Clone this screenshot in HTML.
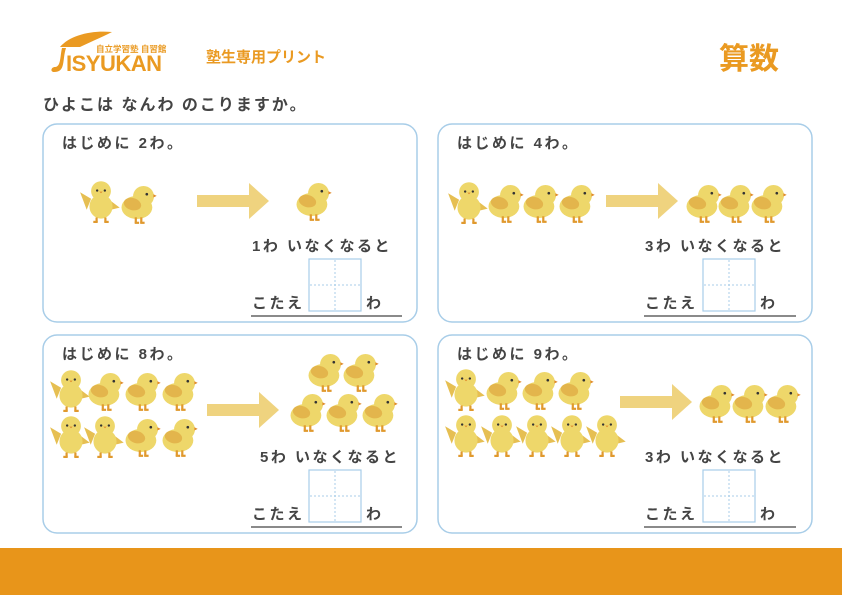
<!DOCTYPE html>
<html><head><meta charset="utf-8"><style>
body{margin:0;width:842px;height:595px;overflow:hidden;background:#fff}
svg{display:block}
text{font-family:"Liberation Sans","Noto Sans CJK JP",sans-serif;font-weight:bold}
</style></head><body>
<svg width="842" height="595" viewBox="0 0 842 595" xmlns="http://www.w3.org/2000/svg">
<defs>
<symbol id="f" viewBox="-20 -20 40 40" overflow="visible"><g transform="scale(1.1)">
<polygon points="-9,-2 -19,-8 -13,8" fill="#e6bf52"/>
<polygon points="9,0 17,6 9,8" fill="#e6bf52"/>
<ellipse cx="0" cy="5" rx="10.5" ry="11" fill="#eed76a"/>
<circle cx="0" cy="-9" r="9" fill="#eed76a"/>
<circle cx="-3.5" cy="-9.5" r="1.1" fill="#333"/><circle cx="3.5" cy="-9.5" r="1.1" fill="#333"/>
<polygon points="-1.5,-8.5 1.5,-8.5 0,-7" fill="#e08a2a"/>
<rect x="-5" y="15" width="2" height="4" fill="#e0992e"/><rect x="3" y="15" width="2" height="4" fill="#e0992e"/>
<rect x="-7" y="18" width="4" height="2" fill="#e0992e"/><rect x="3" y="18" width="4" height="2" fill="#e0992e"/>
</g></symbol>
<symbol id="s" viewBox="-20 -20 40 40" overflow="visible"><g transform="scale(1.1)">
<ellipse cx="-1" cy="4" rx="14" ry="10.5" fill="#eed76a"/>
<circle cx="5" cy="-6" r="9.5" fill="#eed76a"/>
<ellipse cx="-5" cy="1" rx="8" ry="5.5" fill="#e3b54c" transform="rotate(15 -5 1)"/>
<circle cx="8" cy="-8" r="1.2" fill="#333"/>
<polygon points="14,-8 17,-6.5 14,-5" fill="#e08a2a"/>
<rect x="-3" y="13" width="2" height="5" fill="#e0992e"/><rect x="2" y="13" width="2" height="5" fill="#e0992e"/>
<rect x="-3" y="17" width="4" height="2" fill="#e0992e"/><rect x="2" y="17" width="4" height="2" fill="#e0992e"/>
</g></symbol>
<symbol id="ar" viewBox="0 0 72 36" overflow="visible">
<rect x="0" y="12" width="52" height="12" fill="#efd37f"/>
<polygon points="52,0 72,18 52,36" fill="#efd37f"/>
</symbol>
<g id="box">
<rect x="0" y="0" width="52" height="52" fill="#fff" stroke="#a8cde8" stroke-width="1.2"/>
<line x1="26" y1="1" x2="26" y2="51" stroke="#a8cde8" stroke-dasharray="2,2"/>
<line x1="1" y1="26" x2="51" y2="26" stroke="#a8cde8" stroke-dasharray="2,2"/>
</g>
</defs>

<!-- header -->
<path d="M60,47 C70,35 92,30 112,32 C100,38 88,43 80,47 Z" fill="#ea9a22"/>
<path d="M66,48 C62,60 66,72 54,72 C50,72 51,67 55,67 C61,67 60,56 62,48 Z" fill="#ea9a22"/>
<text x="96" y="52" font-size="8.5" fill="#ea9a22">自立学習塾 自習館</text>
<text x="66" y="71" font-size="22" fill="#ea9a22" letter-spacing="-0.5">ISYUKAN</text>
<text x="206" y="62" font-size="15" fill="#ea9a22">塾生専用プリント</text>
<text x="719" y="69" font-size="30" fill="#ea9a22">算数</text>
<text x="43" y="110" font-size="16" fill="#444" letter-spacing="2">ひよこは なんわ のこりますか。</text>

<!-- panels -->
<g fill="none" stroke="#a8cde8" stroke-width="1.5">
<rect x="43" y="124" width="374" height="198" rx="14"/>
<rect x="438" y="124" width="374" height="198" rx="14"/>
<rect x="43" y="335" width="374" height="198" rx="14"/>
<rect x="438" y="335" width="374" height="198" rx="14"/>
</g>
<g font-size="15" fill="#444" letter-spacing="2.5">
<text x="62" y="148">はじめに 2わ。</text>
<text x="457" y="148">はじめに 4わ。</text>
<text x="62" y="359">はじめに 8わ。</text>
<text x="457" y="359">はじめに 9わ。</text>
</g>

<!-- panel 1 -->
<use href="#f" x="81" y="181" width="40" height="40"/>
<use href="#s" x="118" y="183" width="40" height="40"/>
<use href="#ar" x="197" y="183" width="72" height="36"/>
<use href="#s" x="293" y="180" width="40" height="40"/>
<!-- panel 2 -->
<use href="#f" x="449" y="182" width="40" height="40"/>
<use href="#s" x="485" y="182" width="40" height="40"/>
<use href="#s" x="520" y="182" width="40" height="40"/>
<use href="#s" x="556" y="182" width="40" height="40"/>
<use href="#ar" x="606" y="183" width="72" height="36"/>
<use href="#s" x="683" y="182" width="40" height="40"/>
<use href="#s" x="715" y="182" width="40" height="40"/>
<use href="#s" x="748" y="182" width="40" height="40"/>
<!-- panel 3 -->
<use href="#f" x="51" y="370" width="40" height="40"/>
<use href="#s" x="85" y="370" width="40" height="40"/>
<use href="#s" x="122" y="370" width="40" height="40"/>
<use href="#s" x="159" y="370" width="40" height="40"/>
<use href="#f" x="51" y="416" width="40" height="40"/>
<use href="#f" x="85" y="416" width="40" height="40"/>
<use href="#s" x="122" y="416" width="40" height="40"/>
<use href="#s" x="159" y="416" width="40" height="40"/>
<use href="#ar" x="207" y="392" width="72" height="36"/>
<use href="#s" x="305" y="351" width="40" height="40"/>
<use href="#s" x="340" y="351" width="40" height="40"/>
<use href="#s" x="287" y="391" width="40" height="40"/>
<use href="#s" x="323" y="391" width="40" height="40"/>
<use href="#s" x="359" y="391" width="40" height="40"/>
<!-- panel 4 -->
<use href="#f" x="446" y="369" width="40" height="40"/>
<use href="#s" x="483" y="369" width="40" height="40"/>
<use href="#s" x="519" y="369" width="40" height="40"/>
<use href="#s" x="555" y="369" width="40" height="40"/>
<use href="#f" x="446" y="415" width="40" height="40"/>
<use href="#f" x="482" y="415" width="40" height="40"/>
<use href="#f" x="517" y="415" width="40" height="40"/>
<use href="#f" x="552" y="415" width="40" height="40"/>
<use href="#f" x="587" y="415" width="40" height="40"/>
<use href="#ar" x="620" y="384" width="72" height="36"/>
<use href="#s" x="696" y="382" width="40" height="40"/>
<use href="#s" x="729" y="382" width="40" height="40"/>
<use href="#s" x="762" y="382" width="40" height="40"/>

<!-- answer areas -->
<g font-size="15" fill="#444" letter-spacing="2.5">
<text x="252" y="251">1わ いなくなると</text>
<text x="645" y="251">3わ いなくなると</text>
<text x="260" y="462">5わ いなくなると</text>
<text x="645" y="462">3わ いなくなると</text>
<text x="252" y="308">こたえ</text><text x="366" y="308">わ</text>
<text x="645" y="308">こたえ</text><text x="760" y="308">わ</text>
<text x="252" y="519">こたえ</text><text x="366" y="519">わ</text>
<text x="645" y="519">こたえ</text><text x="760" y="519">わ</text>
</g>
<use href="#box" x="309" y="259"/>
<use href="#box" x="703" y="259"/>
<use href="#box" x="309" y="470"/>
<use href="#box" x="703" y="470"/>
<g stroke="#444" stroke-width="1.2">
<line x1="251" y1="316" x2="402" y2="316"/>
<line x1="644" y1="316" x2="796" y2="316"/>
<line x1="251" y1="527" x2="402" y2="527"/>
<line x1="644" y1="527" x2="796" y2="527"/>
</g>

<rect x="0" y="548" width="842" height="47" fill="#e8951a"/>
</svg>
</body></html>
